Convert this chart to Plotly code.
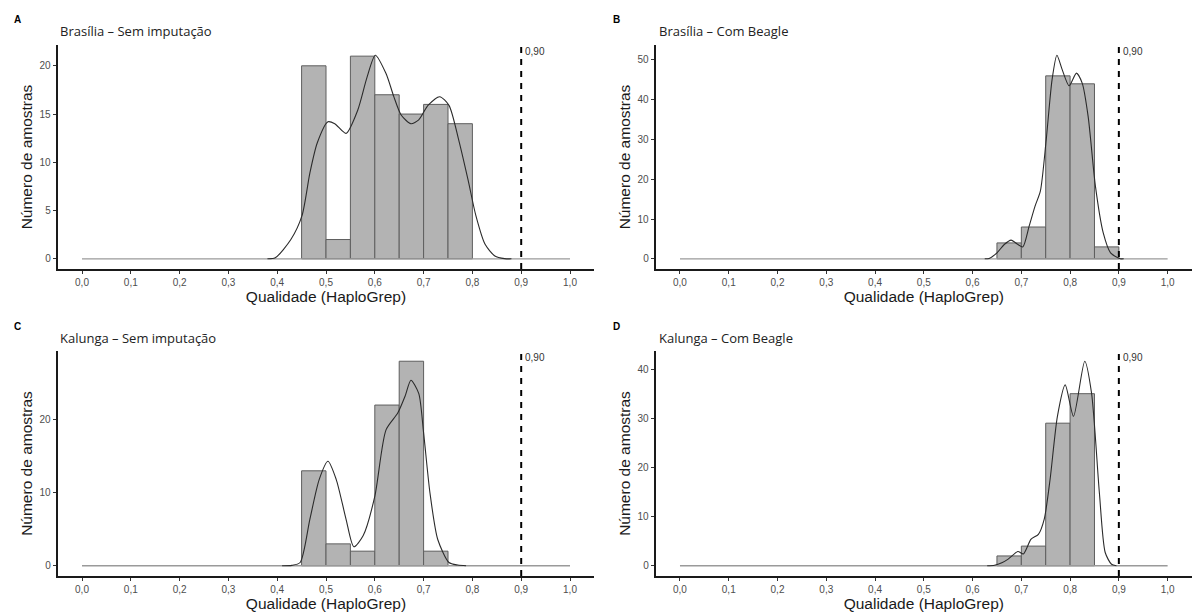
import plotly.graph_objects as go

# ---------------- data ----------------
bin_width = 0.05

# Panel A: Brasília – Sem imputação
A_bin_start = [0.45, 0.50, 0.55, 0.60, 0.65, 0.70, 0.75]
A_counts = [20, 2, 21, 17, 15, 16, 14]
A_dens_x = [0.38, 0.396, 0.428, 0.451, 0.467, 0.482, 0.504, 0.518, 0.541, 0.565, 0.584, 0.601,
            0.623, 0.639, 0.654, 0.674, 0.690, 0.709, 0.733, 0.752, 0.772, 0.791, 0.807, 0.826,
            0.846, 0.866, 0.88]
A_dens_y = [0, 0.1, 2.0, 4.5, 8.9, 12.0, 14.2, 14.0, 13.0, 15.4, 18.8, 21.1,
            19.2, 16.8, 14.9, 14.0, 14.4, 15.9, 16.8, 15.9, 12.3, 8.2, 4.5, 1.5,
            0.3, 0.02, 0]

# Panel B: Brasília – Com Beagle
B_bin_start = [0.65, 0.70, 0.75, 0.80, 0.85]
B_counts = [4, 8, 46, 44, 3]
B_dens_x = [0.625, 0.634, 0.650, 0.665, 0.679, 0.693, 0.703, 0.716, 0.728, 0.739, 0.751, 0.763,
            0.773, 0.784, 0.798, 0.813, 0.825, 0.837, 0.852, 0.868, 0.883, 0.903, 0.91]
B_dens_y = [0, 0.1, 1.5, 3.6, 4.7, 3.6, 3.0, 8.2, 13.2, 17.0, 29.9, 45.0,
            51.2, 47.5, 43.5, 46.7, 44.1, 35.8, 18.2, 6.5, 1.5, 0.02, 0]

# Panel C: Kalunga – Sem imputação
C_bin_start = [0.45, 0.50, 0.55, 0.60, 0.65, 0.70]
C_counts = [13, 3, 2, 22, 28, 2]
C_dens_x = [0.41, 0.43, 0.447, 0.467, 0.486, 0.504, 0.521, 0.541, 0.557, 0.576, 0.600, 0.623,
            0.647, 0.662, 0.674, 0.690, 0.700, 0.713, 0.729, 0.752, 0.770, 0.787]
C_dens_y = [0, 0.05, 0.45, 6.4, 11.8, 14.3, 11.8, 6.4, 2.6, 4.1, 9.5, 18.6,
            20.9, 23.2, 25.4, 23.6, 18.2, 10.0, 3.6, 0.45, 0.1, 0]

# Panel D: Kalunga – Com Beagle
D_bin_start = [0.65, 0.70, 0.75, 0.80]
D_counts = [2, 4, 29, 35]
D_dens_x = [0.630, 0.645, 0.660, 0.673, 0.693, 0.704, 0.720, 0.735, 0.747, 0.759, 0.774, 0.790,
            0.807, 0.830, 0.844, 0.860, 0.872, 0.885, 0.895]
D_dens_y = [0, 0.1, 0.6, 1.35, 2.9, 2.4, 5.4, 6.4, 9.5, 17.6, 30.4, 36.8,
            30.4, 41.6, 35.1, 14.9, 2.7, 0.3, 0]

panel_titles = ["Brasília – Sem imputação", "Brasília – Com Beagle",
                "Kalunga – Sem imputação", "Kalunga – Com Beagle"]
panel_tags = ["A", "B", "C", "D"]
y_dticks = [5, 10, 10, 10]
threshold = 0.90
threshold_label = "0,90"
x_range_data = [0.0, 1.0]
x_ticks = [0.0, 0.1, 0.2, 0.3, 0.4, 0.5, 0.6, 0.7, 0.8, 0.9, 1.0]
x_title = "Qualidade (HaploGrep)"
y_title = "Número de amostras"

panels = [
    (A_bin_start, A_counts, A_dens_x, A_dens_y),
    (B_bin_start, B_counts, B_dens_x, B_dens_y),
    (C_bin_start, C_counts, C_dens_x, C_dens_y),
    (D_bin_start, D_counts, D_dens_x, D_dens_y),
]

# ---------------- layout geometry ----------------
W, H = 1192, 612
x_domains = [[57.6 / W, 594.4 / W], [655.6 / W, 1.0]]
y_domains = [[(H - 269) / H, (H - 45) / H], [(H - 576) / H, (H - 351) / H]]
tag_pos = [(12, 19), (611, 19), (12, 326), (611, 326)]
title_pos = [(58, 31), (657, 31), (58, 338), (657, 338)]

fig = go.Figure()
layout = dict(
    width=W, height=H,
    margin=dict(l=0, r=0, t=0, b=0),
    paper_bgcolor="white", plot_bgcolor="white",
    showlegend=False, separators=",.",
    font=dict(family="Liberation Sans, Arial", color="#333333"),
    shapes=[], annotations=[],
)

xr = [x_range_data[0] - 0.05 * (x_range_data[1] - x_range_data[0]),
      x_range_data[1] + 0.05 * (x_range_data[1] - x_range_data[0])]

for i, (bstart, counts, dx, dy) in enumerate(panels):
    row, col = divmod(i, 2)
    n = i + 1
    xa = "x" if n == 1 else f"x{n}"
    ya = "y" if n == 1 else f"y{n}"
    ymax = max(max(counts), max(dy))
    yr = [-0.05 * ymax, 1.05 * ymax]

    # baseline of density
    fig.add_trace(go.Scatter(x=x_range_data, y=[0, 0], mode="lines",
                             line=dict(color="#9a9a9a", width=1.3),
                             xaxis=xa, yaxis=ya, hoverinfo="skip"))
    # histogram
    centers = [b + bin_width / 2 for b in bstart]
    fig.add_trace(go.Bar(x=centers, y=counts, width=bin_width,
                         marker=dict(color="#b3b3b3", line=dict(color="#5e5e5e", width=1)),
                         xaxis=xa, yaxis=ya))
    # density curve
    fig.add_trace(go.Scatter(x=dx, y=dy, mode="lines",
                             line=dict(color="#2b2b2b", width=1.1, shape="spline", smoothing=0.7),
                             xaxis=xa, yaxis=ya, hoverinfo="skip"))

    axis_common = dict(showgrid=False, zeroline=False, showline=True,
                       linecolor="#1a1a1a", linewidth=1.8,
                       ticks="outside", ticklen=3, tickcolor="#333333", tickwidth=1,
                       tickfont=dict(size=10, color="#4d4d4d", family="Liberation Sans, Arial"))
    layout[("xaxis" if n == 1 else f"xaxis{n}")] = dict(
        axis_common, domain=x_domains[col], range=xr, anchor=ya,
        tickvals=x_ticks, tickformat=".1f",
        title=dict(text=x_title, font=dict(size=15.5, color="#1a1a1a"), standoff=1))
    layout[("yaxis" if n == 1 else f"yaxis{n}")] = dict(
        axis_common, domain=y_domains[row], range=yr, anchor=xa,
        dtick=y_dticks[i], tick0=0,
        title=dict(text=y_title, font=dict(size=15.5, color="#1a1a1a"), standoff=3))

    # threshold dashed line
    layout["shapes"].append(dict(type="line", xref=xa, yref=f"{ya} domain",
                                 x0=threshold, x1=threshold, y0=0, y1=1,
                                 line=dict(color="black", width=2, dash="6px,6px")))
    layout["annotations"].append(dict(xref=xa, yref=f"{ya} domain", x=threshold, y=0.97,
                                      text=threshold_label, showarrow=False,
                                      xanchor="left", yanchor="middle", xshift=2,
                                      font=dict(size=10, color="#333333")))
    # panel tag and title
    tx, ty = tag_pos[i]
    layout["annotations"].append(dict(xref="paper", yref="paper", x=tx / W, y=1 - ty / H,
                                      text=f"<b>{panel_tags[i]}</b>", showarrow=False,
                                      xanchor="left", yanchor="middle",
                                      font=dict(size=10, color="black", family="Liberation Sans, Arial")))
    px_, py_ = title_pos[i]
    layout["annotations"].append(dict(xref="paper", yref="paper", x=px_ / W, y=1 - py_ / H,
                                      text=panel_titles[i], showarrow=False,
                                      xanchor="left", yanchor="middle",
                                      font=dict(size=13, color="#222222", family="Open Sans")))

fig.update_layout(**layout)
fig.write_html("out.html")
